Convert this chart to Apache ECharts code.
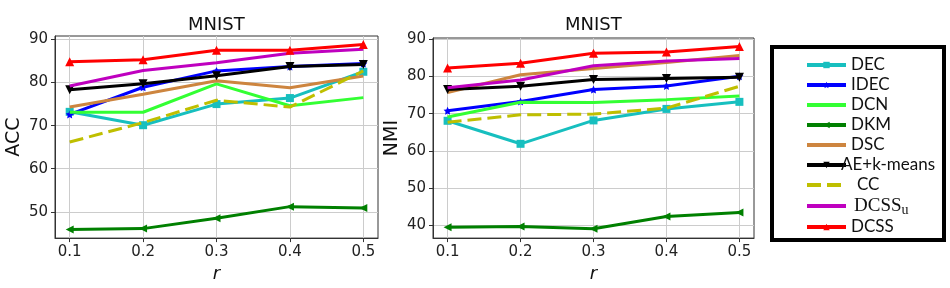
<!DOCTYPE html>
<html><head><meta charset="utf-8">
<script src="https://cdn.jsdelivr.net/npm/echarts@6/dist/echarts.min.js"></script>
<style>html,body{margin:0;padding:0;background:#fff}#c{width:950px;height:288px}</style>
</head><body><div id="c"></div><script>
const rValues = [0.1, 0.2, 0.3, 0.4, 0.5];
const accTicks = [50, 60, 70, 80, 90];
const nmiTicks = [40, 50, 60, 70, 80, 90];
const methods = ['DEC', 'IDEC', 'DCN', 'DKM', 'DSC', 'AE+k-means', 'CC', 'DCSSu', 'DCSS'];

const accDEC   = [73.2, 70.1, 75.0, 76.4, 82.5];
const accIDEC  = [72.6, 78.9, 82.7, 83.7, 84.4];
const accDCN   = [73.1, 73.1, 79.7, 74.6, 76.5];
const accDKM   = [45.9, 46.1, 48.5, 51.2, 50.9];
const accDSC   = [74.3, 77.3, 80.4, 78.8, 81.5];
const accAE    = [78.3, 79.7, 81.6, 83.7, 84.2];
const accCC    = [66.2, 70.7, 75.9, 74.3, 82.7];
const accDCSSu = [79.2, 82.8, 84.6, 86.8, 87.7];
const accDCSS  = [84.8, 85.3, 87.5, 87.5, 88.8];

const nmiDEC   = [68.1, 61.9, 68.2, 71.3, 73.2];
const nmiIDEC  = [70.8, 73.3, 76.5, 77.5, 80.1];
const nmiDCN   = [69.1, 73.1, 73.0, 73.8, 74.8];
const nmiDKM   = [39.4, 39.6, 39.0, 42.3, 43.4];
const nmiDSC   = [75.7, 80.5, 82.2, 83.8, 85.7];
const nmiAE    = [76.5, 77.4, 79.2, 79.5, 79.8];
const nmiCC    = [67.7, 69.7, 69.9, 71.5, 77.4];
const nmiDCSSu = [77.0, 79.1, 82.9, 84.2, 84.9];
const nmiDCSS  = [82.3, 83.6, 86.3, 86.6, 88.1];

const accData = [accDEC, accIDEC, accDCN, accDKM, accDSC, accAE, accCC, accDCSSu, accDCSS];
const nmiData = [nmiDEC, nmiIDEC, nmiDCN, nmiDKM, nmiDSC, nmiAE, nmiCC, nmiDCSSu, nmiDCSS];

const STAR = 'path://M0,-10 L2.9,-4 L9.5,-3.1 L4.8,1.5 L5.9,8.1 L0,5 L-5.9,8.1 L-4.8,1.5 L-9.5,-3.1 L-2.9,-4 Z';
const styles = {
  'DEC':        {color:'#17bfbf', symbol:'rect', size:8, rot:0},
  'IDEC':       {color:'#0000ff', symbol:STAR, size:8, rot:0},
  'DCN':        {color:'#33ff33', symbol:'none', size:0, rot:0},
  'DKM':        {color:'#008000', symbol:'triangle', size:8, rot:90},
  'DSC':        {color:'#cd853f', symbol:'none', size:0, rot:0},
  'AE+k-means': {color:'#000000', symbol:'triangle', size:9, rot:180},
  'CC':         {color:'#bfbf00', symbol:'none', size:0, rot:0, dash:[14,6]},
  'DCSSu':      {color:'#bf00bf', symbol:'none', size:0, rot:0},
  'DCSS':       {color:'#ff0000', symbol:'triangle', size:9, rot:0}
};

const FONT = 'DejaVu Sans';
function mkX(gi) {
  return {
    gridIndex: gi, type: 'value', min: 0.08, max: 0.52,
    name: 'r', nameLocation: 'middle', nameGap: 26,
    nameTextStyle: {fontFamily: FONT, fontSize: 18, fontStyle: 'italic', color: '#111'},
    axisLine: {show: true, onZero: false, lineStyle: {color: '#333', width: 1}},
    axisTick: {show: true, length: 4, customValues: rValues, lineStyle: {color: '#333'}},
    axisLabel: {fontFamily: FONT, fontSize: 15, color: '#222', margin: 7, customValues: rValues,
      formatter: v => v.toFixed(1)},
    splitLine: {show: true, lineStyle: {color: '#cccccc', width: 1}}
  };
}
function mkY(gi, min, max, name, ticks, gap) {
  return {
    gridIndex: gi, type: 'value', min: min, max: max,
    name: name, nameLocation: 'middle', nameGap: gap, nameRotate: 90,
    nameTextStyle: {fontFamily: FONT, fontSize: 19, color: '#111'},
    axisLine: {show: true, lineStyle: {color: '#333', width: 1}},
    axisTick: {show: true, length: 4, customValues: ticks, lineStyle: {color: '#333'}},
    axisLabel: {fontFamily: FONT, fontSize: 15, color: '#222', margin: 7, customValues: ticks},
    splitLine: {show: true, lineStyle: {color: '#cccccc', width: 1}}
  };
}

const series = [];
[accData, nmiData].forEach((set, gi) => {
  methods.forEach((m, i) => {
    const s = styles[m];
    series.push({
      name: m, type: 'line', xAxisIndex: gi, yAxisIndex: gi,
      data: rValues.map((r, k) => [r, set[i][k]]),
      symbol: s.symbol, symbolSize: s.size, symbolRotate: s.rot,
      showSymbol: s.symbol !== 'none',
      lineStyle: {color: s.color, width: 3, type: s.dash ? s.dash : 'solid'},
      itemStyle: {color: s.color},
      emphasis: {disabled: true},
      animation: false, z: 2 + i
    });
  });
});

const legendData = methods.map(m => {
  const s = styles[m];
  const item = {name: m};
  if (s.symbol === 'none') item.itemStyle = {opacity: 0};
  if (m === 'AE+k-means') item.textStyle = {padding: [0, 0, 0, -10]};
  if (m === 'CC') item.textStyle = {padding: [0, 0, 0, 6]};
  return item;
});

const chart = echarts.init(document.getElementById('c'), null, {renderer: 'canvas'});
chart.setOption({
  animation: false,
  grid: [
    {left: 55, top: 36, width: 323, height: 210, show: true, borderColor: '#333', borderWidth: 1, containLabel: false},
    {left: 433, top: 38, width: 321, height: 208, show: true, borderColor: '#333', borderWidth: 1, containLabel: false}
  ],
  xAxis: [mkX(0), mkX(1)],
  yAxis: [mkY(0, 43.9, 90.8, 'ACC', accTicks, 31), mkY(1, 36.5, 90.4, 'NMI', nmiTicks, 31)],
  legend: {
    orient: 'vertical', left: 800, top: 50, itemWidth: 39, itemHeight: 8, itemGap: 0,
    selectedMode: false,
    lineStyle: {width: 4},
    textStyle: {fontFamily: 'Lato', fontSize: 17, lineHeight: 20, color: '#111', padding: [0, 0, 0, 0],
      rich: {
        m: {fontFamily: 'Liberation Serif', fontSize: 19, lineHeight: 20, color: '#111', padding: [0, 0, 0, 3]},
        s: {fontFamily: 'Liberation Serif', fontSize: 14, lineHeight: 20, color: '#111', padding: [8, 0, 0, 0]}
      }},
    formatter: n => n === 'DCSSu' ? '{m|DCSS}{s|u}' : n,
    data: legendData
  },
  graphic: [
    {type: 'text', left: 216 - 28, top: 16, style: {text: 'MNIST', font: '18px "DejaVu Sans"', fill: '#111'}},
    {type: 'text', left: 593 - 28, top: 16, style: {text: 'MNIST', font: '18px "DejaVu Sans"', fill: '#111'}},
    {type: 'rect', shape: {x: 772, y: 47, width: 172, height: 193}, style: {fill: 'none', stroke: '#000', lineWidth: 4}}
  ],
  series: series
});
</script></body></html>
